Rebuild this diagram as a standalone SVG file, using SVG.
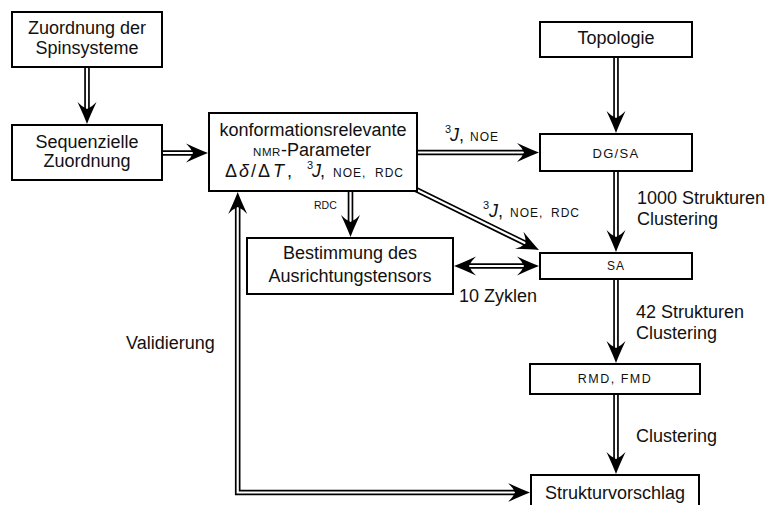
<svg xmlns="http://www.w3.org/2000/svg" width="770" height="505" viewBox="0 0 770 505">
  <style>
    .box { fill: #fff; stroke: #000; stroke-width: 2; }
    .t { font-family: "Liberation Sans", Arial, sans-serif; font-size: 18px; fill: #111; }
    .c { text-anchor: middle; }
    .sc { font-size: 12px; letter-spacing: 1px; }
    .it { font-style: italic; }
    .sup { font-size: 11px; }
    .out { fill: none; stroke: #000; stroke-width: 5.6; stroke-linejoin: miter; }
    .in { fill: none; stroke: #fff; stroke-width: 2.2; stroke-linejoin: miter; marker-end: url(#ah); }
    .both { marker-start: url(#ah); }
  </style>
  <defs>
    <!-- curved double-line arrow tip, tip at origin pointing along +x -->
    <marker id="ah" markerUnits="userSpaceOnUse" orient="auto-start-reverse" overflow="visible" markerWidth="1" markerHeight="1" refX="0" refY="0">
      <path d="M0,0 Q-8,-3 -22,-9.5 Q-17,-5 -15,0 Q-17,5 -22,9.5 Q-8,3 0,0 Z" fill="#000"/>
    </marker>
  </defs>
  <rect width="770" height="505" fill="#fff"/>

  <g id="connectors">
    <path class="out" d="M87,66 V111"/><path class="in" d="M87,66 V124"/>
    <path class="out" d="M161,153 H195"/><path class="in" d="M161,153 H208"/>
    <path class="out" d="M416,152.5 H526"/><path class="in" d="M416,152.5 H539"/>
    <path class="out" d="M616,56 V120"/><path class="in" d="M616,56 V133"/>
    <path class="out" d="M616,170 V239"/><path class="in" d="M616,170 V252"/>
    <path class="out" d="M616,278 V350"/><path class="in" d="M616,278 V363"/>
    <path class="out" d="M616,393 V461"/><path class="in" d="M616,393 V474"/>
    <path class="out" d="M350.5,190 V224"/><path class="in" d="M350.5,190 V237"/>
    <path class="out" d="M409.8,186.5 L527.3,244.3"/><path class="in" d="M409.8,186.5 L539,250"/>
    <path class="out" d="M467,266 H526"/><path class="in both" d="M454,266 H539"/>
    <path class="out" d="M237.7,205 V492.5 H517"/><path class="in both" d="M237.7,192 V492.5 H530"/>

    <!-- edge labels -->
    <text class="t sup" x="445" y="133">3</text>
    <text class="t" y="141"><tspan class="it" x="450">J</tspan><tspan x="459">,</tspan><tspan class="sc" x="470">NOE</tspan></text>
    <text class="t sup" x="483" y="209">3</text>
    <text class="t" y="217"><tspan class="it" x="489">J</tspan><tspan x="498">,</tspan><tspan class="sc" x="510">NOE,</tspan><tspan class="sc" x="551">RDC</tspan></text>
    <text class="t" x="314" y="209" style="font-size:10.5px">RDC</text>
    <text class="t" x="637" y="204">1000 Strukturen</text>
    <text class="t" x="637" y="225">Clustering</text>
    <text class="t" x="459" y="302">10 Zyklen</text>
    <text class="t" x="636" y="318">42 Strukturen</text>
    <text class="t" x="636" y="339">Clustering</text>
    <text class="t" x="636" y="442">Clustering</text>
    <text class="t" x="126" y="349">Validierung</text>
  </g>

  <g id="spinsysteme">
    <rect class="box" x="12" y="12" width="150" height="55"/>
    <text class="t c" x="87" y="34">Zuordnung der</text>
    <text class="t c" x="87" y="54">Spinsysteme</text>
  </g>
  <g id="sequenziell">
    <rect class="box" x="12" y="125" width="150" height="55"/>
    <text class="t c" x="87" y="148">Sequenzielle</text>
    <text class="t c" x="87" y="167">Zuordnung</text>
  </g>
  <g id="parameter">
    <rect class="box" x="209" y="113" width="208" height="78"/>
    <text class="t c" x="313" y="136">konformationsrelevante</text>
    <text class="t" y="156"><tspan class="sc" x="253" style="font-size:11.5px;letter-spacing:0.6px">NMR</tspan><tspan x="281">-Parameter</tspan></text>
    <text class="t" y="177"><tspan x="225">Δ</tspan><tspan class="it" x="239">δ</tspan><tspan x="251">/</tspan><tspan x="258">Δ</tspan><tspan class="it" x="273">T</tspan><tspan x="287">,</tspan></text>
    <text class="t sup" x="307" y="169">3</text>
    <text class="t" y="177"><tspan class="it" x="312">J</tspan><tspan x="320">,</tspan><tspan class="sc" x="333">NOE,</tspan><tspan class="sc" x="375">RDC</tspan></text>
  </g>
  <g id="topologie">
    <rect class="box" x="540" y="22" width="152" height="35"/>
    <text class="t c" x="616" y="44">Topologie</text>
  </g>
  <g id="dgsa">
    <rect class="box" x="540" y="134" width="152" height="37"/>
    <text class="t c sc" x="616" y="158" style="font-size:13px;letter-spacing:1.3px">DG/SA</text>
  </g>
  <g id="sa">
    <rect class="box" x="540" y="253" width="152" height="26"/>
    <text class="t c sc" x="616" y="270">SA</text>
  </g>
  <g id="ausrichtungstensor">
    <rect class="box" x="247" y="238" width="206" height="56"/>
    <text class="t c" x="350" y="259">Bestimmung des</text>
    <text class="t c" x="350" y="282">Ausrichtungstensors</text>
  </g>
  <g id="rmdfmd">
    <rect class="box" x="530" y="364" width="170" height="30"/>
    <text class="t c sc" x="615" y="383" style="font-size:12.5px;letter-spacing:1.5px">RMD, FMD</text>
  </g>
  <g id="strukturvorschlag">
    <rect class="box" x="531" y="475" width="168" height="40"/>
    <text class="t c" x="615" y="499">Strukturvorschlag</text>
  </g>
</svg>
